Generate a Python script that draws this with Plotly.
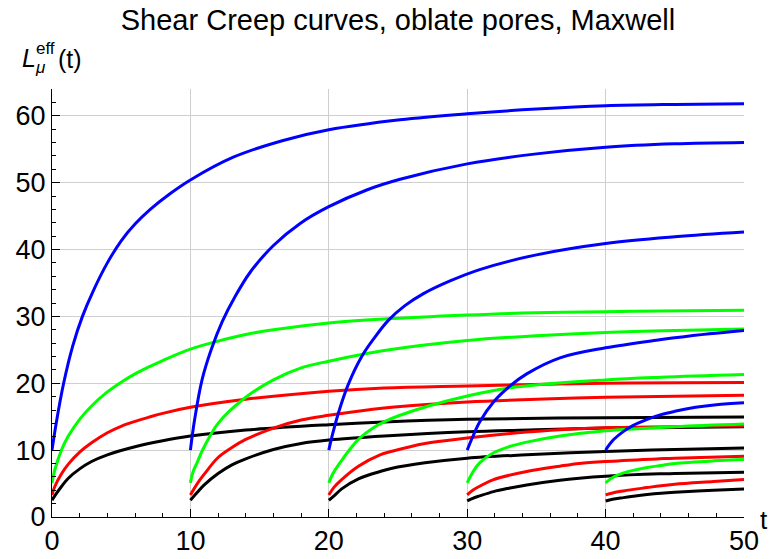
import plotly.graph_objects as go

# ---- data ----
# blue family
t_blue_0 = [0, 0.3, 0.84, 1.5, 2.2, 3, 4, 5, 6, 7.1, 8.5, 10, 13.1, 16.7, 20, 25.15, 30, 35, 40, 45, 50]
L_blue_0 = [10, 14, 20, 25.6, 30, 33.9, 38, 41.3, 43.8, 46.0, 48.3, 50.4, 53.8, 56.3, 57.9, 59.4, 60.3, 61.0, 61.5, 61.7, 61.8]
t_blue_10 = [10, 10.3, 10.84, 11.5, 12.3, 13.24, 14.32, 16, 17.93, 20, 22.74, 25.15, 30, 35, 40, 45, 50]
L_blue_10 = [10, 14.5, 20.5, 25, 29.2, 33.0, 36.6, 40.6, 43.9, 46.4, 48.9, 50.5, 52.8, 54.3, 55.3, 55.8, 56.0]
t_blue_20 = [20, 20.3, 20.7, 21.4, 22.38, 23.3, 24.3, 25.5, 26.84, 28.76, 30.9, 35, 40, 45, 50]
L_blue_20 = [10, 12.6, 15.6, 19.8, 24.0, 26.8, 29.4, 31.6, 33.4, 35.3, 37.0, 39.2, 40.9, 41.9, 42.6]
t_blue_30 = [30, 30.4, 30.9, 31.9, 33.1, 34.3, 36.7, 40, 43.9, 45, 47.5, 50]
L_blue_30 = [10, 12.0, 14.2, 17.2, 19.6, 21.4, 23.8, 25.3, 26.5, 26.8, 27.4, 27.9]
t_blue_40 = [40, 40.5, 41.3, 42, 43, 44, 45, 46.5, 48, 50]
L_blue_40 = [10, 11.4, 12.8, 13.7, 14.6, 15.3, 15.8, 16.4, 16.8, 17.1]

# green family
t_green_0 = [0, 0.21, 0.7, 1.18, 2, 2.86, 4, 5.03, 6, 6.96, 8, 10, 12, 14, 16, 20, 24, 30, 34, 40, 44, 50]
L_green_0 = [5.1, 7.1, 10.1, 12.1, 14.6, 16.6, 18.7, 20.2, 21.4, 22.4, 23.4, 25.1, 26.3, 27.3, 28.0, 29.0, 29.6, 30.2, 30.5, 30.7, 30.8, 30.9]
t_green_10 = [10, 10.2, 10.5, 10.83, 12, 14, 16, 18, 20, 24, 30, 35, 40, 45, 50]
L_green_10 = [5.1, 6.8, 8.2, 9.8, 14.0, 17.9, 20.5, 22.3, 23.3, 24.9, 26.4, 27.1, 27.6, 27.9, 28.1]
t_green_20 = [20, 20.3, 20.7, 22.14, 23.34, 24.07, 25, 27.2, 30, 33, 40, 44, 50]
L_green_20 = [5.1, 6.5, 7.8, 11.6, 13.5, 14.3, 15.1, 16.6, 18.1, 19.3, 20.5, 20.9, 21.3]
t_green_30 = [30, 30.4, 30.9, 31.9, 33, 34.3, 36.7, 40, 45, 50]
L_green_30 = [5.1, 6.7, 8.1, 9.6, 10.5, 11.2, 12.1, 12.9, 13.5, 13.9]
t_green_40 = [40, 40.5, 41.3, 43, 44, 45, 47.8, 50]
L_green_40 = [5.1, 5.9, 6.6, 7.4, 7.7, 8.0, 8.4, 8.6]

# red family
t_red_0 = [0, 0.21, 0.7, 1.18, 2, 2.86, 4, 5.03, 6, 6.96, 8, 10, 14, 20, 24, 30, 40, 50]
L_red_0 = [3.3, 4.6, 6.5, 7.9, 9.7, 11.1, 12.6, 13.6, 14.3, 14.9, 15.5, 16.4, 17.6, 18.8, 19.3, 19.6, 20.0, 20.1]
t_red_10 = [10, 10.5, 11, 12, 13, 14, 16, 18, 20, 24, 30, 35, 40, 45, 50]
L_red_10 = [3.3, 5.0, 6.4, 8.9, 10.4, 11.6, 13.3, 14.5, 15.2, 16.3, 17.2, 17.6, 17.9, 18.05, 18.2]
t_red_20 = [20, 20.4, 20.93, 22.14, 23.7, 24.5, 26.95, 30, 34.3, 38, 40, 45, 50]
L_red_20 = [3.3, 4.5, 5.6, 7.6, 9.3, 9.8, 11.0, 11.8, 12.7, 13.2, 13.35, 13.5, 13.65]
t_red_30 = [30, 30.4, 30.9, 31.9, 34.3, 36.7, 38.1, 40, 43.9, 45, 50]
L_red_30 = [3.3, 4.0, 4.6, 5.6, 6.8, 7.6, 8.0, 8.3, 8.7, 8.8, 9.1]
t_red_40 = [40, 40.5, 41.3, 43, 44, 45, 47.8, 50]
L_red_40 = [3.3, 3.6, 3.9, 4.4, 4.68, 4.9, 5.3, 5.6]

# black family
t_black_0 = [0, 0.21, 0.7, 1.18, 2, 2.86, 4, 6, 8, 10, 14, 20, 24, 30, 40, 50]
L_black_0 = [2.5, 3.2, 4.6, 5.8, 7.2, 8.3, 9.3, 10.5, 11.4, 12.1, 13.0, 13.8, 14.2, 14.6, 14.85, 14.95]
t_black_10 = [10, 10.5, 11, 12, 13, 14, 16, 18, 20, 24, 30, 35, 40, 45, 50]
L_black_10 = [2.5, 3.7, 4.8, 6.5, 7.8, 8.7, 10.1, 11.0, 11.5, 12.1, 12.75, 13.05, 13.3, 13.4, 13.5]
t_black_20 = [20, 20.4, 20.93, 22.14, 23.7, 24.5, 26.95, 30, 34.3, 40, 45, 50]
L_black_20 = [2.5, 3.2, 4.2, 5.7, 6.8, 7.25, 8.1, 8.8, 9.3, 9.8, 10.1, 10.3]
t_black_30 = [30, 30.4, 30.9, 31.9, 33, 34.3, 36.7, 38.1, 40, 43.9, 45, 50]
L_black_30 = [2.4, 2.8, 3.15, 3.8, 4.3, 4.8, 5.5, 5.8, 6.1, 6.45, 6.5, 6.7]
t_black_40 = [40, 40.5, 41.3, 42, 43, 44, 45, 47.8, 50]
L_black_40 = [2.4, 2.65, 2.9, 3.1, 3.35, 3.55, 3.7, 4.0, 4.2]

x_ticks = [0, 10, 20, 30, 40, 50]
y_ticks = [0, 10, 20, 30, 40, 50, 60]
title_text = "Shear Creep curves, oblate pores, Maxwell"

families = [
    ("#000000", [(t_black_0, L_black_0), (t_black_10, L_black_10), (t_black_20, L_black_20),
                 (t_black_30, L_black_30), (t_black_40, L_black_40)]),
    ("#ff0000", [(t_red_0, L_red_0), (t_red_10, L_red_10), (t_red_20, L_red_20),
                 (t_red_30, L_red_30), (t_red_40, L_red_40)]),
    ("#00ff00", [(t_green_0, L_green_0), (t_green_10, L_green_10), (t_green_20, L_green_20),
                 (t_green_30, L_green_30), (t_green_40, L_green_40)]),
    ("#0000ff", [(t_blue_0, L_blue_0), (t_blue_10, L_blue_10), (t_blue_20, L_blue_20),
                 (t_blue_30, L_blue_30), (t_blue_40, L_blue_40)]),
]

fig = go.Figure()
for color, curves in families:
    for tt, LL in curves:
        fig.add_trace(go.Scatter(x=tt, y=LL, mode="lines",
                                 line=dict(color=color, width=3, shape="spline", smoothing=1.0),
                                 showlegend=False, hoverinfo="skip"))

FONT = "Liberation Sans, Arial, sans-serif"
W, H = 771, 559
# plot area in window pixels: x 52..744, y 89..517
ML, MR, MT, MB = 52, 771 - 744, 89, 559 - 517
PW, PH = W - ML - MR, H - MT - MB


def px2paper(px, py):
    """window pixel -> paper coordinate"""
    return (px - ML) / PW, (H - MB - py) / PH


axis_common = dict(
    automargin=False,
    showline=True, linecolor="#000000", linewidth=1, mirror=False,
    ticks="inside", ticklen=8, tickwidth=1, tickcolor="#000000",
    showgrid=True, gridcolor="#cfcfcf", gridwidth=1, zeroline=False,
    tickfont=dict(family=FONT, size=27, color="#000000"),
    minor=dict(dtick=2, ticks="inside", ticklen=4, tickwidth=1, tickcolor="#000000", showgrid=False),
)

fig.update_xaxes(range=[0, 50], tickvals=x_ticks, ticktext=[str(v) for v in x_ticks], **axis_common)
fig.update_yaxes(range=[0, 64], tickvals=y_ticks, ticktext=[str(v) for v in y_ticks], **axis_common)

annots = []
def add_text(text, px, py, size, italic=False):
    x, y = px2paper(px, py)
    if italic:
        text = "<i>" + text + "</i>"
    annots.append(dict(text=text, x=x, y=y, xref="paper", yref="paper",
                       xanchor="center", yanchor="middle", showarrow=False,
                       font=dict(family=FONT, size=size, color="#000000")))

add_text("L", 29, 58, 25, italic=True)
add_text("eff", 45, 49, 17)
add_text("μ", 40, 68, 17, italic=True)
add_text("(t)", 70, 59, 25)
add_text("t", 764, 520, 26)

fig.update_layout(
    width=W, height=H,
    margin=dict(l=ML, r=MR, t=MT, b=MB, autoexpand=False),
    paper_bgcolor="#ffffff", plot_bgcolor="#ffffff",
    title=dict(text=title_text, x=0.5, xref="paper", xanchor="center",
               y=1 - 20 / H, yref="container", yanchor="middle",
               font=dict(family=FONT, size=29, color="#000000")),
    annotations=annots,
    showlegend=False,
)

# remove the browser's default 8 px body margin so the figure fills the window
fig.write_html("out.html", config={"displayModeBar": False},
               post_script="document.body.style.margin='0';")
